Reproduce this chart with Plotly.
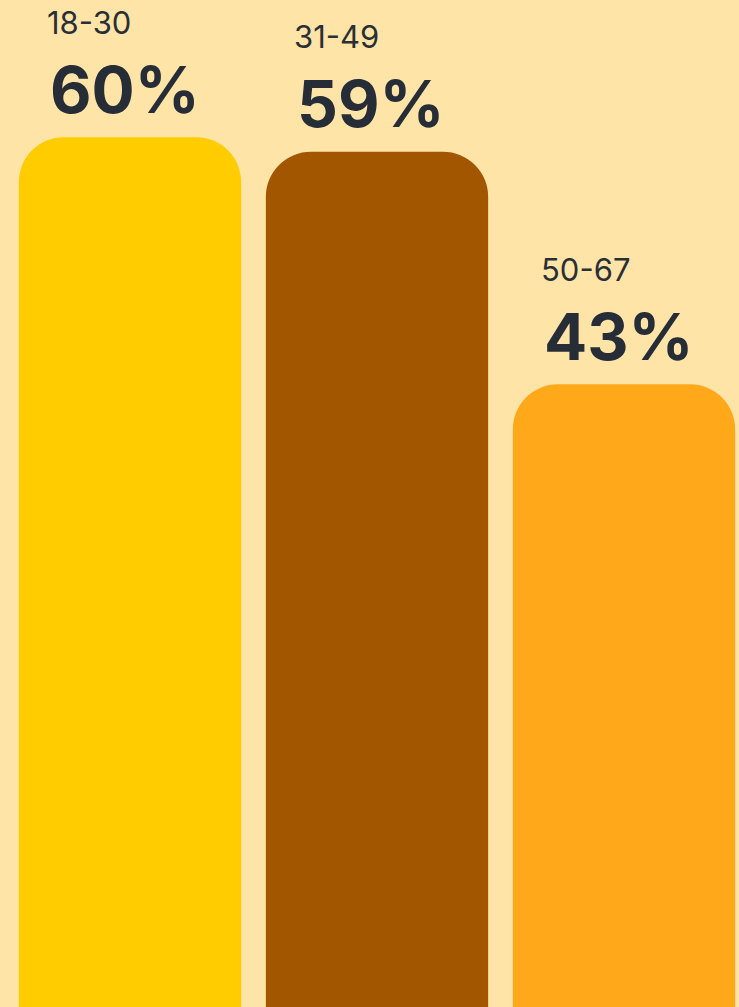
import plotly.graph_objects as go

categories = ["18-30", "31-49", "50-67"]
values = [60, 59, 43]
colors = ["#FFCC00", "#A35600", "#FFA81A"]

x_pos = list(range(len(categories)))
bar_width = 0.9

fig = go.Figure()
fig.add_trace(go.Bar(
    x=x_pos, y=values, width=bar_width,
    marker=dict(color=colors, line=dict(width=0)),
    hoverinfo="skip",
))

annotations = []
for i, (cat, val) in enumerate(zip(categories, values)):
    left = i - bar_width / 2
    annotations.append(dict(
        x=left, y=val, xref="x", yref="y",
        text=f"{val}%", showarrow=False,
        xanchor="left", yanchor="middle",
        xshift=29, yshift=48,
        font=dict(family="Inter", size=64, color="#272D36", weight=700),
    ))
    annotations.append(dict(
        x=left, y=val, xref="x", yref="y",
        text=cat, showarrow=False,
        xanchor="left", yanchor="middle",
        xshift=26, yshift=115,
        font=dict(family="Inter", size=31, color="#2A2F36"),
    ))

fig.update_layout(
    width=739, height=1007,
    margin=dict(l=0, r=0, t=0, b=0),
    paper_bgcolor="#FFE4A8",
    plot_bgcolor="#FFE4A8",
    showlegend=False,
    barcornerradius=45,
    annotations=annotations,
    xaxis=dict(range=[-130 / 247, 609 / 247], visible=False, fixedrange=True),
    yaxis=dict(range=[0.14, 69.44], visible=False, fixedrange=True),
)

fig.write_html(
    "out.html",
    config={"displayModeBar": False},
    post_script="document.body.style.margin='0';document.body.style.overflow='hidden';",
)
